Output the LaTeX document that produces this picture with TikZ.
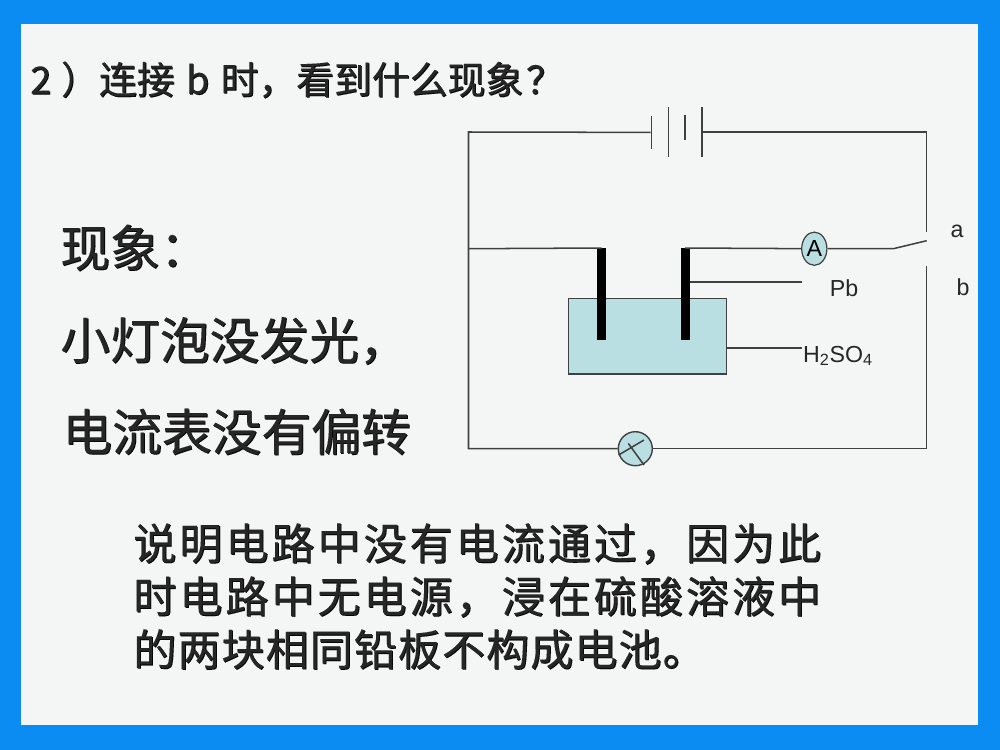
\documentclass[tikz,border=0pt]{standalone}
\usepackage{fontspec}
\usetikzlibrary{shapes.geometric}
\setmainfont{Liberation Sans}
\newfontfamily\cjk[FakeBold=0.12]{Noto Sans CJK SC}
\newfontfamily\cjkwide[FakeBold=0.12,LetterSpace=7]{Noto Sans CJK SC}
\newfontfamily\cjktight[FakeBold=0.12,LetterSpace=2.5]{Noto Sans CJK SC}
\definecolor{frameblue}{HTML}{0A8CF2}
\definecolor{paper}{HTML}{F4F5F5}
\definecolor{liquid}{HTML}{B9DFE3}
\definecolor{wire}{HTML}{404040}
% hollow looking text: black shadow behind a dark grey face
\newcommand{\hollow}[1]{\rlap{\color{black}\raisebox{-0.6pt}{\kern0.6pt #1}}{\color{black!85}#1}}
\tikzset{
    wiring/.style={draw=wire,line width=0.38mm},
    plate/.style={fill=wire,inner sep=0,minimum width=0.38mm},
    electrode/.style={fill=black,inner sep=0,minimum width=2.25mm,minimum height=23mm},
    tag/.style={inner sep=0,font=\fontsize{16.5}{20}\selectfont,text=black!85},
    title/.style={inner sep=0,anchor=west,font=\fontsize{26.9}{32}\cjk},
    big/.style={inner sep=0,anchor=west,font=\fontsize{35.4}{40}\cjk},
    para/.style={inner sep=0,anchor=north west,align=left,font=\fontsize{30.6}{37.7}\cjkwide}
}
\begin{document}
\begin{tikzpicture}[x=0.025cm,y=-0.025cm]
        \useasboundingbox (0,0) rectangle (1000,750);
        \fill[frameblue] (0,0) rectangle (1000,750);
        \fill[paper] (21,24) rectangle (978,725);

        \path (30,80) node[title](question){\hollow{2\hspace{7pt}）连接\hspace{2pt} b \hspace{2pt}时，看到什么现象\hspace{2pt}？}};
        \path (60,248) node[big](seen){\hollow{现象：}};
        \path (60,341) node[big](lamptext){\hollow{小灯泡没发光，}};
        \path (62,432) node[big](metertext){\hollow{电流表没有偏转}};
        \path (133,523) node[para](reason){\hollow{说明电路中没有电流通过，因为此}\\\hollow{时电路中无电源，浸在硫酸溶液中}\\\hollow{\cjktight 的两块相同铅板不构成电池。}};

        % corners and switch contacts
        \coordinate (topleft) at (468.5,132);
        \coordinate (topright) at (926.7,132);
        \coordinate (botleft) at (468.5,448.7);
        \coordinate (botright) at (926.7,448.7);
        \coordinate (midleft) at (468.5,248.7);
        \coordinate (contacta) at (926.7,231.7);
        \coordinate (contactb) at (926.7,265.7);
        \coordinate (hinge) at (893.3,248.7);
        \coordinate (lever) at (926.7,240.7);
        \coordinate (pbend) at (801.7,282);
        \coordinate (acidend) at (802,348);

        % cell
        \path (651.7,132.4) node[plate,minimum height=8.4mm](p1){};
        \path (668.7,132) node[plate,minimum height=12.5mm](p2){};
        \path (685.2,127.5) node[plate,minimum height=6.2mm](p3){};
        \path (702,132) node[plate,minimum height=12.5mm](p4){};

        % tank
        \path (647.5,336.4) node[draw=wire,fill=liquid,line width=0.3mm,inner sep=0,minimum width=39.6mm,minimum height=18.8mm](tank){};
        \path (601.5,294.3) node[electrode](elecl){};
        \path (685,294.3) node[electrode](elecr){};

        \path (814.3,248.7) node[ellipse,draw=wire,fill=liquid,line width=0.3mm,inner sep=0,minimum width=6.3mm,minimum height=8.3mm,font=\fontsize{16.5}{20}\selectfont](amp){A};
        \path (635.3,448.7) node[circle,draw=wire,fill=liquid,line width=0.35mm,inner sep=0,minimum size=8.5mm](lamp){};

        \path (957,231) node[tag](laba){a};
        \path (963,287) node[tag](labb){b};
        \path (844,288) node[tag](labpb){Pb};
        \path (838,356) node[tag](labacid){H\textsubscript{2}SO\textsubscript{4}};

        \draw[wiring] (p1) -- (topleft) -- (botleft) -- (lamp);
        \draw[wiring] (p4) -- (topright) -- (contacta);
        \draw[wiring] (lamp) -- (botright) -- (contactb);
        \draw[wiring] (midleft) -- (elecl.north);
        \draw[wiring] (elecr.north) -- (amp);
        \draw[wiring] (amp) -- (hinge) -- (lever);
        \draw[wiring] (elecr.east |- pbend) -- (pbend);
        \draw[wiring] (tank.east |- acidend) -- (acidend);
        \draw[wiring] ([shift={(-16.7,6.3)}]lamp.center) -- ([shift={(8.7,-8.7)}]lamp.center);
        \draw[wiring] ([shift={(-7,-5.3)}]lamp.center) -- ([shift={(8.7,16.3)}]lamp.center);
    \end{tikzpicture}
\end{document}
